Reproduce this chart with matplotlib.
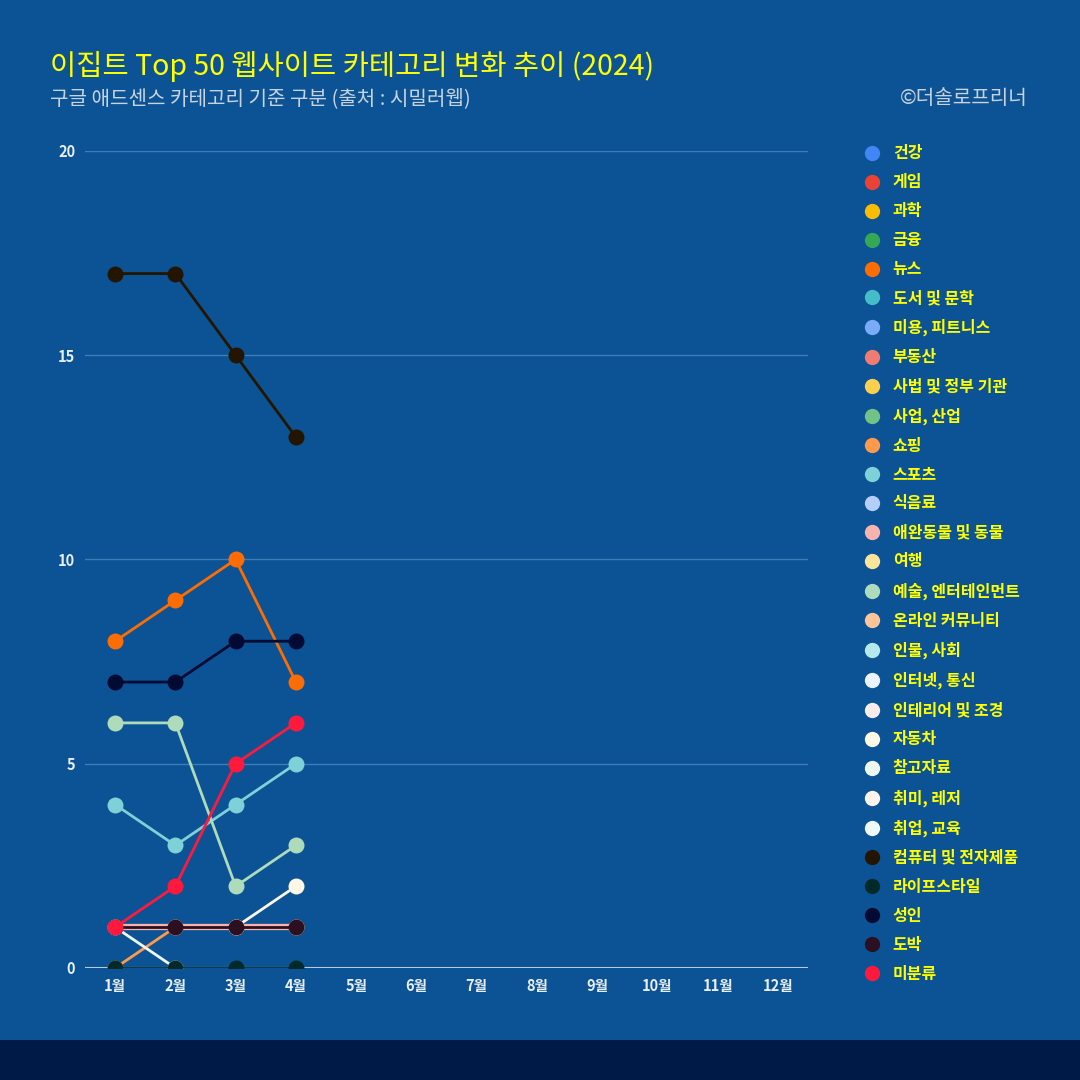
import numpy as np
import matplotlib.pyplot as plt
from matplotlib.lines import Line2D
from matplotlib.patches import Rectangle

plt.rcParams['font.family'] = ['Noto Sans CJK KR', 'DejaVu Sans']

months = ['1월', '2월', '3월', '4월', '5월', '6월', '7월', '8월', '9월', '10월', '11월', '12월']
nan = np.nan

categories = ['건강', '게임', '과학', '금융', '뉴스', '도서 및 문학', '미용, 피트니스', '부동산',
              '사법 및 정부 기관', '사업, 산업', '쇼핑', '스포츠', '식음료', '애완동물 및 동물', '여행',
              '예술, 엔터테인먼트', '온라인 커뮤니티', '인물, 사회', '인터넷, 통신', '인테리어 및 조경',
              '자동차', '참고자료', '취미, 레저', '취업, 교육', '컴퓨터 및 전자제품', '라이프스타일',
              '성인', '도박', '미분류']
colors = ['#4285f4', '#ea4335', '#fbbc04', '#34a853', '#ff6d01', '#46bdc6', '#7baaf7', '#f07b72',
          '#fcd04f', '#71c287', '#ff994d', '#7ed1d7', '#b3cefb', '#f7b4ae', '#fde49b',
          '#aedcba', '#ffc599', '#b5e8ec', '#ecf3fe', '#fdeceb',
          '#fff8e6', '#eef8f1', '#fff3eb', '#f0fafb', '#231500', '#002a2a',
          '#000a33', '#2a1020', '#ff1a3d']

# monthly counts (Jan-Apr 2024)
values = {
    '뉴스': [8, 9, 10, 7],
    '쇼핑': [0, 1, 1, 1],
    '스포츠': [4, 3, 4, 5],
    '애완동물 및 동물': [1, 1, 1, 1],
    '예술, 엔터테인먼트': [6, 6, 2, 3],
    '자동차': [nan, nan, 1, 2],
    '참고자료': [1, 0, nan, nan],
    '컴퓨터 및 전자제품': [17, 17, 15, 13],
    '라이프스타일': [0, 0, 0, 0],
    '성인': [7, 7, 8, 8],
    '도박': [1, 1, 1, 1],
    '미분류': [1, 2, 5, 6],
}

bg = '#0b5394'
fig = plt.figure(figsize=(10.8, 10.8), dpi=100, facecolor=bg)
fig.patches.append(Rectangle((0, 0), 1, 40 / 1080, transform=fig.transFigure,
                             facecolor='#001a47', edgecolor='none', zorder=0))

ax = fig.add_axes([85 / 1080, 112 / 1080, 723 / 1080, 817 / 1080])
ax.set_facecolor(bg)

x = np.arange(len(months))
for name, col in zip(categories, colors):
    if name not in values:
        continue
    v = values[name]
    lw = 4.5 if name == '애완동물 및 동물' else 2
    ax.plot(x[:len(v)], v, color=col, lw=lw, marker='o', markersize=11.5,
            markeredgewidth=0, zorder=3)

ax.set_xlim(-0.5, 11.5)
ax.set_ylim(0, 20)
ax.set_yticks([0, 5, 10, 15, 20])
ax.set_xticks(x)
ax.set_xticklabels(months)
ax.grid(axis='y', color='#3d7cb6', lw=1)
ax.axhline(0, color='#b8c8dc', lw=1.5, zorder=2)
for s in ax.spines.values():
    s.set_visible(False)
ax.tick_params(axis='x', length=0, colors='#e8eef5', labelsize=10.5, pad=7)
ax.tick_params(axis='y', length=0, colors='#e8eef5', labelsize=10.5, pad=7)
for lab in ax.get_xticklabels() + ax.get_yticklabels():
    lab.set_fontweight('bold')

handles = [Line2D([], [], ls='none', marker='o', markersize=11, markeredgewidth=0, color=c)
           for c in colors]
leg = fig.legend(handles, categories, loc='upper left', bbox_to_anchor=(848 / 1080, 1 - 131 / 1080),
                 frameon=False, fontsize=11.5, labelspacing=0.81, handletextpad=0.7,
                 handlelength=1.2)
for t in leg.get_texts():
    t.set_color('#ffff00')
    t.set_fontweight('bold')

fig.text(50 / 1080, 1 - 67 / 1080, '이집트 Top 50 웹사이트 카테고리 변화 추이 (2024)', color='#ffff00',
         fontsize=20.5, va='center', ha='left')
fig.text(50 / 1080, 1 - 99 / 1080, '구글 애드센스 카테고리 기준 구분 (출처 : 시밀러웹)', color='#c9d3df',
         fontsize=14.5, va='center', ha='left')
fig.text(1028 / 1080, 1 - 99 / 1080, '©더솔로프리너', color='#c9d3df',
         fontsize=14.5, va='center', ha='right')

fig.savefig('out.png', dpi=100, facecolor=bg)
